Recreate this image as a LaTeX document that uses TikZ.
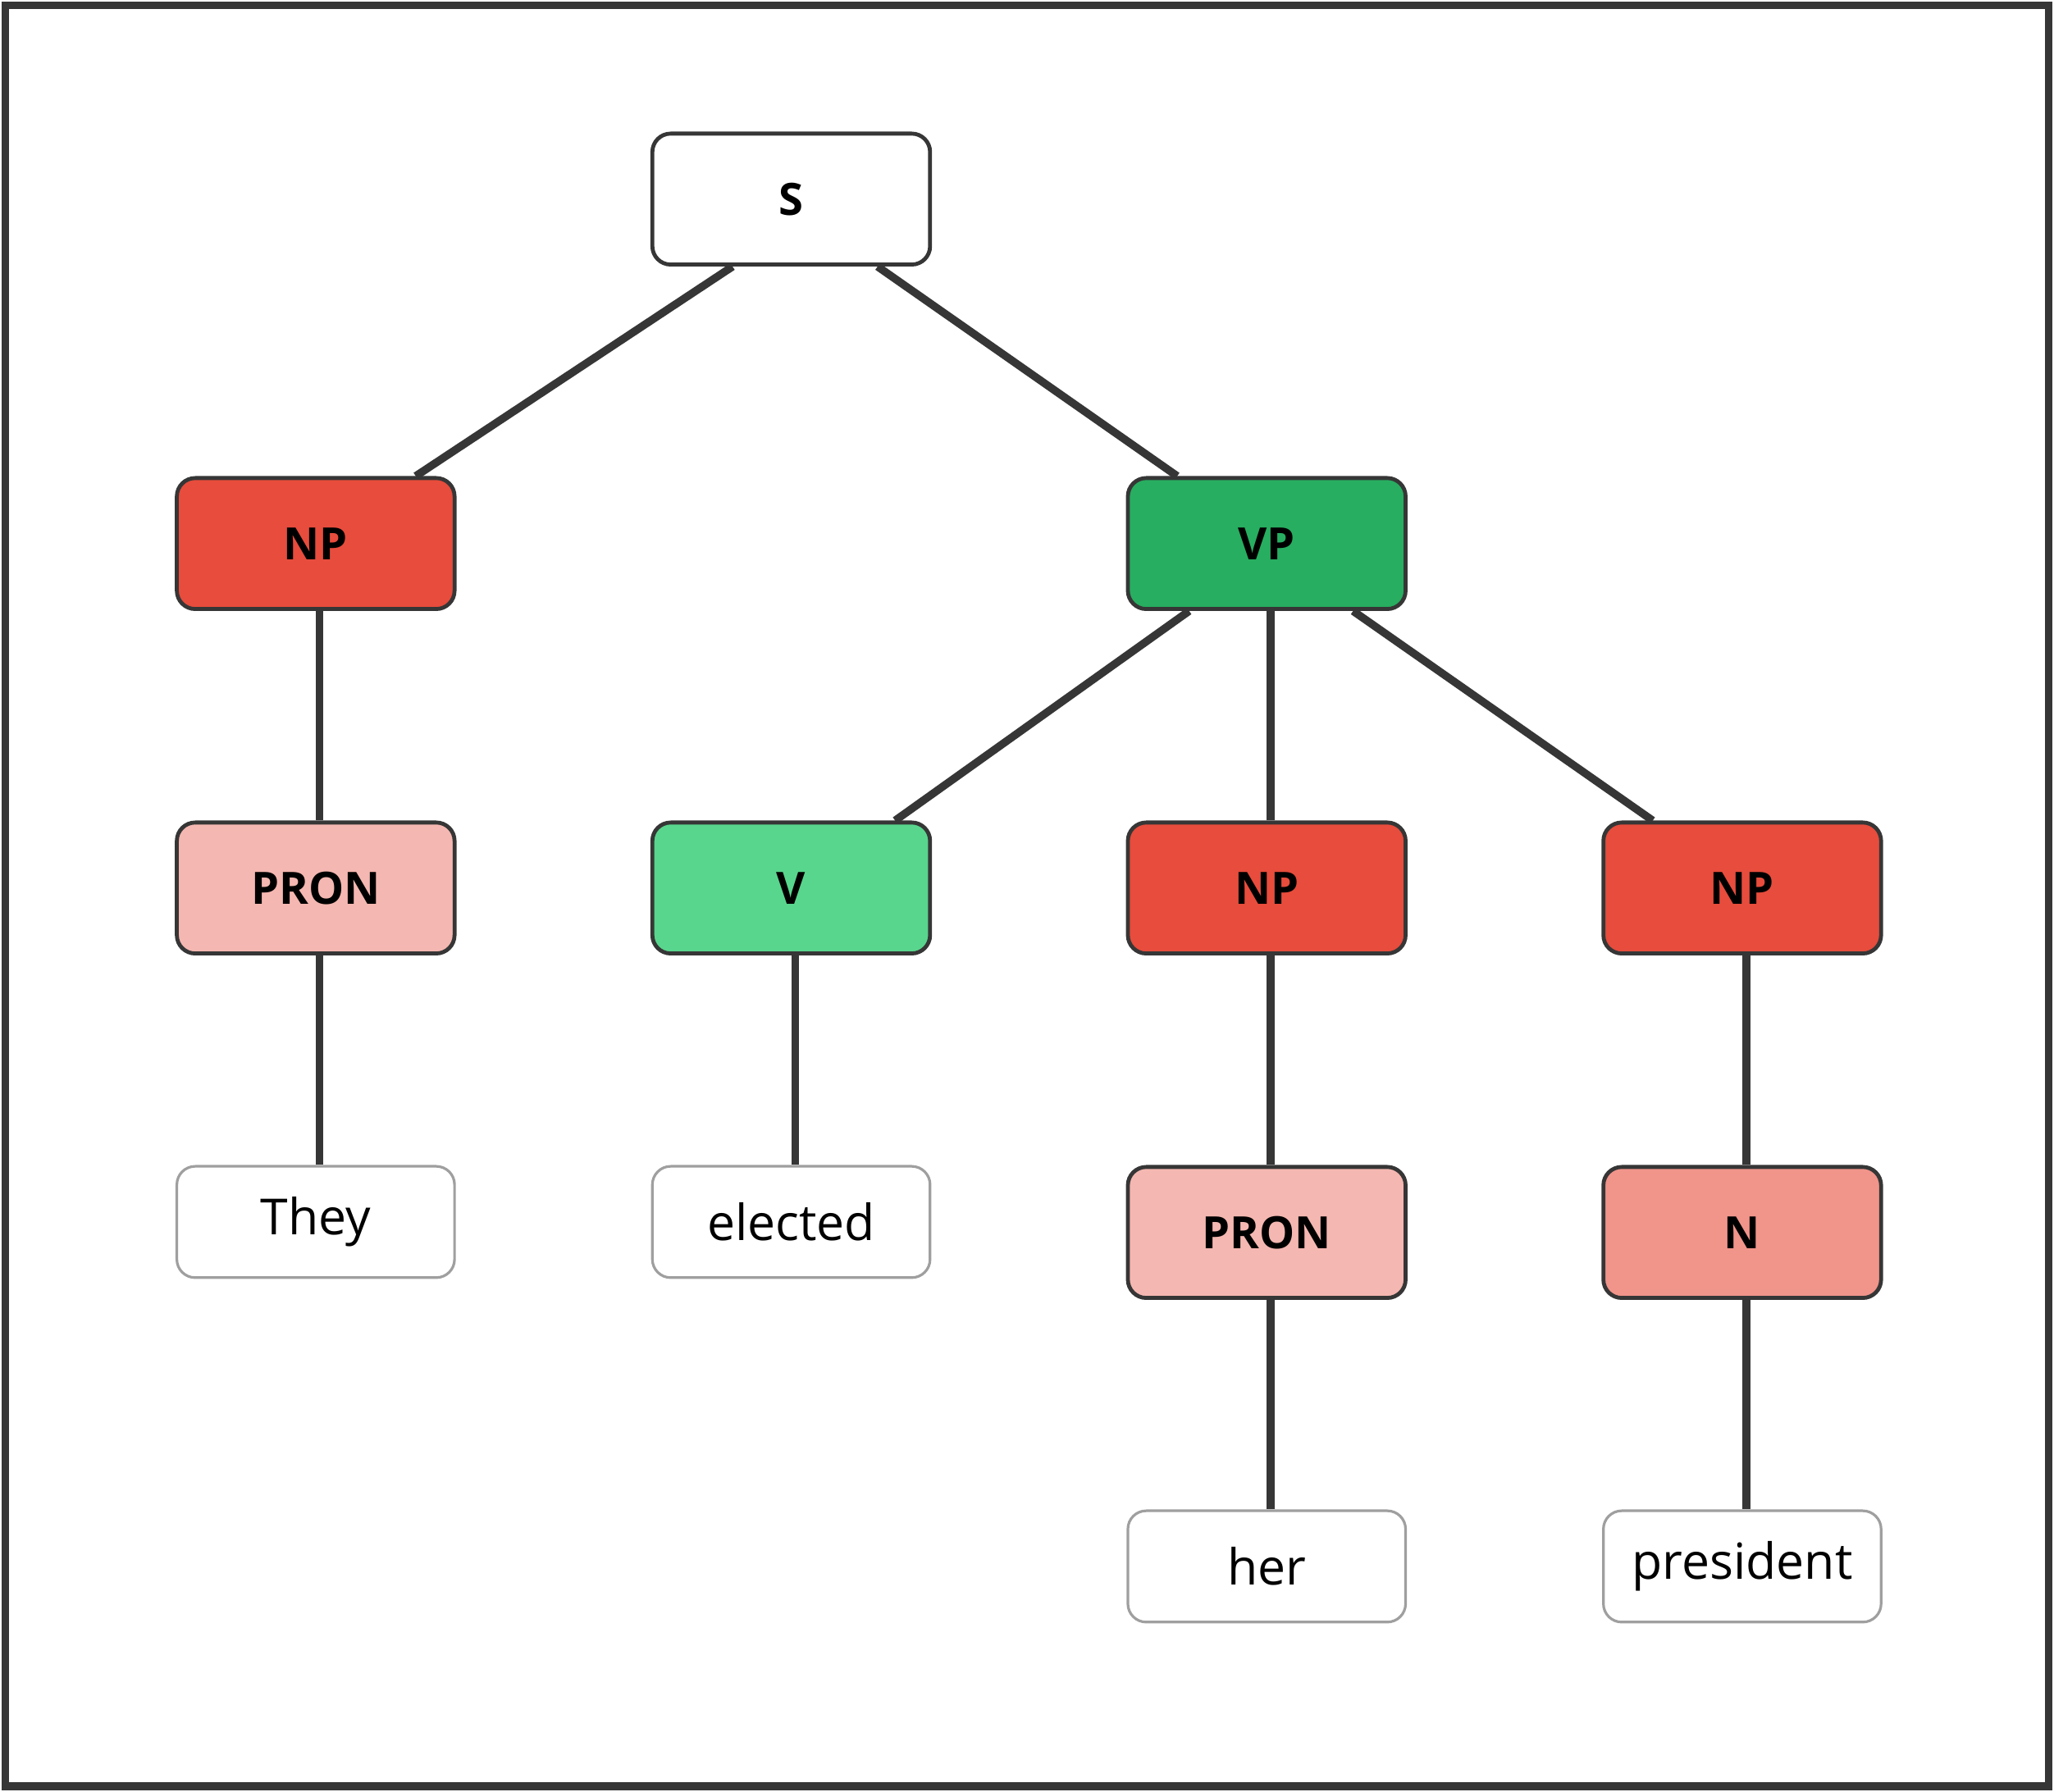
\documentclass[tikz,border=0pt]{standalone}
\usepackage{fontspec}
\setmainfont{Open Sans}
\definecolor{npred}{HTML}{E74C3C}
\definecolor{vpgreen}{HTML}{27AE60}
\definecolor{vgreen}{HTML}{58D68D}
\definecolor{pronpink}{HTML}{F5B7B1}
\definecolor{nsalmon}{HTML}{F1948A}
\definecolor{edgegray}{HTML}{363636}
\begin{document}
\begin{tikzpicture}[x=1pt,y=-1pt]
    \tikzstyle{cat}=[draw=edgegray,line width=3pt,rounded corners=14pt,minimum width=212pt,minimum height=100pt,inner sep=0pt,font=\fontsize{34}{40}\selectfont\bfseries]
    \tikzstyle{word}=[draw=gray!75,line width=2pt,rounded corners=14pt,fill=white,minimum width=212pt,minimum height=85pt,inner sep=0pt,font=\fontsize{38}{44}\selectfont]
    \tikzstyle{branch}=[draw=edgegray,line width=6pt]
    \useasboundingbox (0,0) rectangle (1568,1368);
    \draw[edgegray,line width=6pt] (4,4) rectangle (1564,1364);
    % categories
    \node[cat,fill=white] (S) at (604,152) {S};
    \node[cat,fill=npred] (NP1) at (241,415) {NP};
    \node[cat,fill=vpgreen] (VP) at (967,415) {VP};
    \node[cat,fill=pronpink] (PRON1) at (241,678) {PRON};
    \node[cat,fill=vgreen] (V) at (604,678) {V};
    \node[cat,fill=npred] (NP2) at (967,678) {NP};
    \node[cat,fill=npred] (NP3) at (1330,678) {NP};
    \node[cat,fill=pronpink] (PRON2) at (967,941) {PRON};
    \node[cat,fill=nsalmon] (N) at (1330,941) {N};
    % words
    \node[word] (they) at (241,933) {They};
    \node[word] (elected) at (604,933) {elected};
    \node[word] (her) at (967,1196) {her};
    \node[word] (president) at (1330,1196) {president};
    % branches
    \draw[branch] (S.229) -- (NP1.34);
    \draw[branch] (S.322) -- (VP.143);
    \draw[branch] (VP.221) -- (V.33);
    \draw[branch] (VP.322) -- (NP3.143);
    \draw[branch] ([xshift=3pt]NP1.south) -- ([xshift=3pt]PRON1.north);
    \draw[branch] ([xshift=3pt]VP.south) -- ([xshift=3pt]NP2.north);
    \draw[branch] ([xshift=3pt]PRON1.south) -- ([xshift=3pt]they.north);
    \draw[branch] ([xshift=3pt]V.south) -- ([xshift=3pt]elected.north);
    \draw[branch] ([xshift=3pt]NP2.south) -- ([xshift=3pt]PRON2.north);
    \draw[branch] ([xshift=3pt]NP3.south) -- ([xshift=3pt]N.north);
    \draw[branch] ([xshift=3pt]PRON2.south) -- ([xshift=3pt]her.north);
    \draw[branch] ([xshift=3pt]N.south) -- ([xshift=3pt]president.north);
\end{tikzpicture}
\end{document}
